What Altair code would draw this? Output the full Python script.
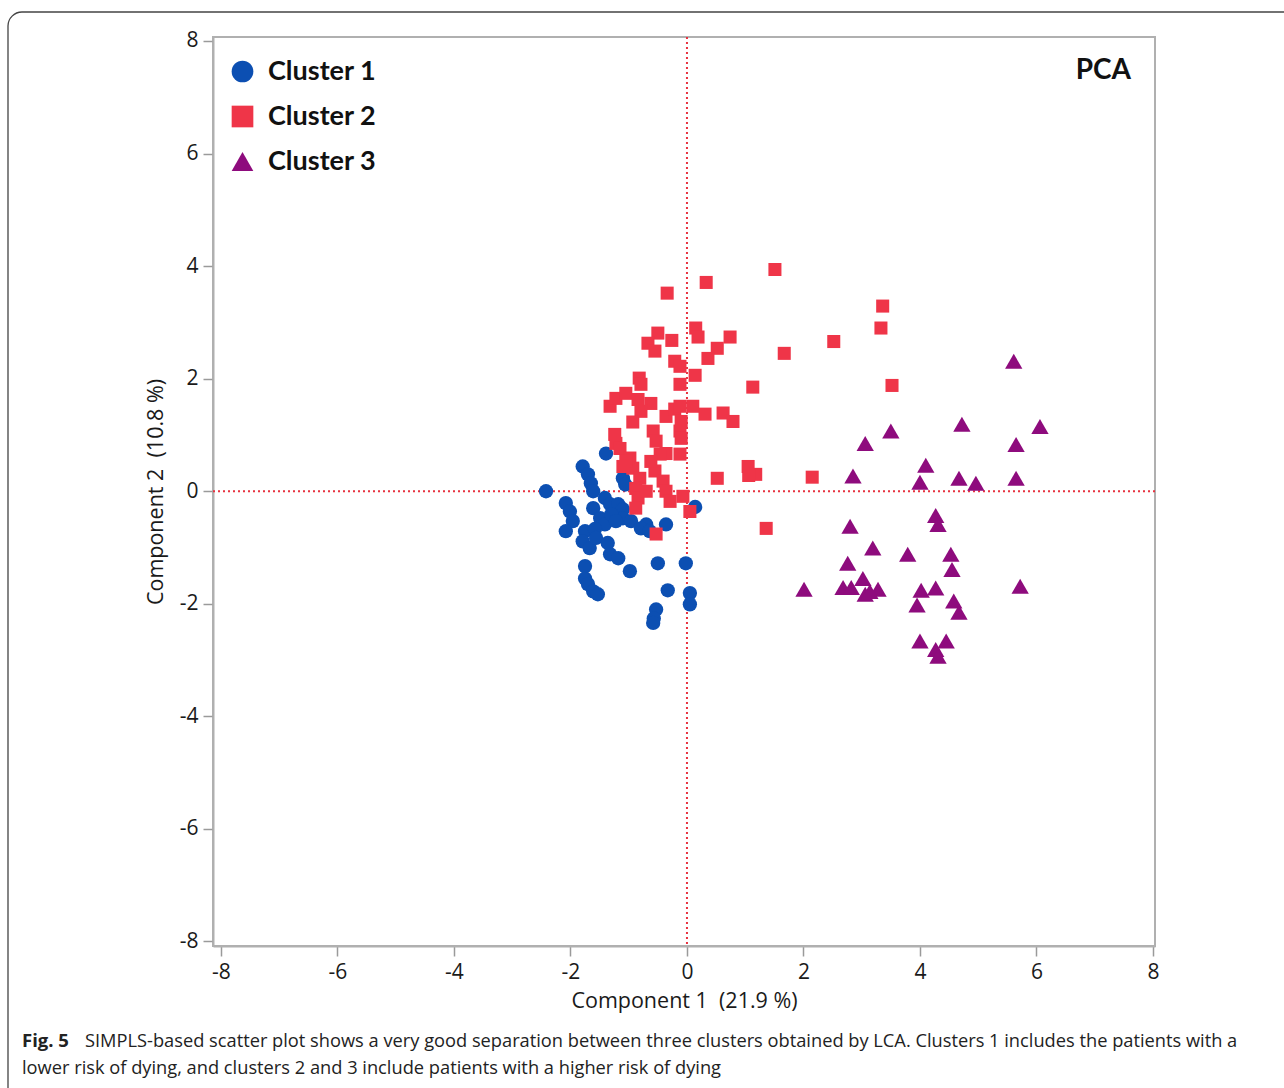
import altair as alt
import pandas as pd

# ---- data ----
c1_x = [-1.39, -1.79, -1.70, -2.42, -1.65, -1.61, -1.10, -1.06, -1.41, -1.32, -2.08, -2.01,
        -1.61, -1.18, -1.10, -1.96, -1.49, -1.41, -1.10, -0.96, -0.70, -0.36, 0.14, -2.08,
        -1.75, -1.58, -1.79, -1.67, -1.56, -1.36, -1.32, -1.18, -0.98, -1.75, -1.75, -1.70,
        -1.61, -1.53, -0.50, -0.02, -0.33, 0.05, 0.05, -0.53, -0.57, -0.58, -1.30, -1.22,
        -0.79, -0.64]
c1_y = [0.67, 0.44, 0.30, 0.00, 0.14, 0.00, 0.23, 0.12, -0.12, -0.23, -0.21, -0.36,
        -0.30, -0.23, -0.32, -0.53, -0.48, -0.59, -0.48, -0.53, -0.59, -0.59, -0.28, -0.71,
        -0.71, -0.67, -0.89, -1.01, -0.83, -0.92, -1.12, -1.19, -1.42, -1.33, -1.55, -1.65,
        -1.78, -1.83, -1.28, -1.28, -1.76, -1.81, -2.01, -2.10, -2.26, -2.34, -0.41, -0.53,
        -0.66, -0.71]

c2_x = [1.51, 0.33, -0.34, 3.36, 3.33, 0.15, 0.19, -0.50, -0.67, -0.26, -0.55, 0.74,
        0.52, 0.36, 2.52, 1.67, -0.21, -0.12, 0.14, -0.82, -0.79, -0.12, 1.13, 3.52,
        -1.32, -1.22, -1.05, -0.84, -0.62, -0.79, -0.93, -0.36, -0.21, -0.12, -0.10, 0.10,
        0.31, 0.62, 0.79, -0.58, -0.53, -0.12, -0.10, -1.24, -1.22, -1.15, -0.98, -0.93,
        -0.81, -0.88, -0.84, -0.88, -0.55, -0.41, -0.36, -0.29, -0.07, 0.05, -0.53, -0.36,
        -0.12, -0.46, -0.70, 0.52, 1.05, 1.18, 1.06, 2.15, 1.36, -1.05, -0.62, -1.10]
c2_y = [3.94, 3.71, 3.52, 3.29, 2.90, 2.90, 2.74, 2.81, 2.63, 2.68, 2.49, 2.74,
        2.54, 2.36, 2.66, 2.45, 2.31, 2.22, 2.06, 2.01, 1.90, 1.90, 1.85, 1.88,
        1.51, 1.65, 1.74, 1.63, 1.56, 1.42, 1.23, 1.33, 1.46, 1.51, 1.24, 1.51,
        1.37, 1.39, 1.24, 1.07, 0.89, 1.07, 0.94, 1.01, 0.85, 0.76, 0.59, 0.41,
        0.23, 0.05, -0.12, -0.30, 0.36, 0.18, 0.00, -0.18, -0.09, -0.36, -0.76, 0.67,
        0.66, 0.66, 0.00, 0.23, 0.44, 0.30, 0.28, 0.25, -0.66, 0.53, 0.53, 0.44]

c3_x = [5.61, 6.06, 4.72, 3.50, 3.06, 5.65, 4.10, 2.85, 4.00, 4.67, 4.96, 5.65,
        4.27, 4.31, 2.80, 3.19, 3.79, 4.53, 4.55, 2.76, 2.01, 2.68, 2.82, 3.02,
        3.06, 3.28, 3.14, 4.02, 4.27, 3.95, 4.58, 4.67, 5.72, 4.00, 4.45, 4.27, 4.31]
c3_y = [2.31, 1.15, 1.19, 1.07, 0.85, 0.83, 0.46, 0.27, 0.16, 0.23, 0.14, 0.23,
        -0.43, -0.59, -0.62, -1.01, -1.12, -1.12, -1.39, -1.28, -1.74, -1.71, -1.71, -1.55,
        -1.83, -1.74, -1.78, -1.76, -1.72, -2.02, -1.95, -2.15, -1.69, -2.66, -2.66, -2.81, -2.93]

clusters = ["Cluster 1", "Cluster 2", "Cluster 3"]
colors = ["#0c4fb2", "#ef3548", "#8e0b7d"]
shapes = ["circle", "square", "triangle-up"]
ticks = [-8, -6, -4, -2, 0, 2, 4, 6, 8]

x_title = "Component 1\u00a0 (21.9 %)"
y_title = "Component 2\u00a0 (10.8 %)"
corner_label = "PCA"
caption_bold = "Fig. 5"
caption_1 = ("SIMPLS-based scatter plot shows a very good separation between three clusters "
             "obtained by LCA. Clusters 1 includes the patients with a")
caption_2 = "lower risk of dying, and clusters 2 and 3 include patients with a higher risk of dying"

rows = []
for name, xs, ys in zip(clusters, [c1_x, c2_x, c3_x], [c1_y, c2_y, c3_y]):
    for a, b in zip(xs, ys):
        rows.append({"x": a, "y": b, "cluster": name})
df = pd.DataFrame(rows)

W, H = 942, 909

xscale = alt.Scale(domain=[-8.137, 8.035], nice=False, zero=False)
yscale = alt.Scale(domain=[-8.08, 8.071], nice=False, zero=False)

axis_common = dict(
    values=ticks, labelExpr="'' + datum.value", grid=False,
    labelFont="Open Sans", labelFontSize=21, labelColor="#1a1a1a",
    tickSize=10, tickColor="#9a9a9a", tickWidth=1.5,
    domainColor="#b0b0b0", domainWidth=2,
    titleFont="Open Sans", titleFontSize=21.5, titleFontWeight="normal", titleColor="#1a1a1a",
)

legend = alt.Legend(title=None, orient="none", legendX=16, legendY=21,
                    labelFont="Lato", labelFontSize=27, labelFontWeight="bold",
                    labelColor="#111", symbolSize=470, rowPadding=17,
                    labelOffset=12, padding=0, symbolStrokeWidth=0)

color_enc = alt.Color("cluster:N", scale=alt.Scale(domain=clusters, range=colors), legend=legend)
shape_enc = alt.Shape("cluster:N", scale=alt.Scale(domain=clusters, range=shapes), legend=legend)

base = alt.Chart(df).encode(
    x=alt.X("x:Q", scale=xscale, axis=alt.Axis(title=x_title, labelPadding=5, titlePadding=8, **axis_common)),
    y=alt.Y("y:Q", scale=yscale, axis=alt.Axis(title=y_title, labelPadding=5, titlePadding=12, **axis_common)),
    color=color_enc,
    shape=shape_enc,
)

sizes = [205, 170, 300]
point_layers = [
    base.transform_filter(alt.datum.cluster == name).mark_point(filled=True, opacity=1, size=s)
    for name, s in zip(clusters, sizes)
]

zero_df = pd.DataFrame({"v": [0]})
vrule = alt.Chart(zero_df).mark_rule(color="#e8323f", strokeDash=[2, 3], strokeWidth=2).encode(
    x=alt.X("v:Q", scale=xscale))
hrule = alt.Chart(zero_df).mark_rule(color="#e8323f", strokeDash=[2, 3], strokeWidth=2).encode(
    y=alt.Y("v:Q", scale=yscale))

pca = alt.Chart(zero_df).mark_text(text=corner_label, font="Lato", fontSize=28, fontWeight="bold",
                                   align="right", baseline="middle", color="#111").encode(
    x=alt.value(918), y=alt.value(34))

border = alt.Chart(zero_df).mark_rect(fillOpacity=0, stroke="#444", strokeWidth=1.3,
                                      cornerRadius=14).encode(
    x=alt.value(-205), x2=alt.value(1100), y=alt.value(-25), y2=alt.value(1080))

cap_b = alt.Chart(zero_df).mark_text(text=caption_bold, font="Open Sans", fontSize=18.5,
                                     fontWeight="bold", align="left", baseline="alphabetic",
                                     color="#222").encode(x=alt.value(-191), y=alt.value(1010))
cap_1 = alt.Chart(zero_df).mark_text(text=caption_1, font="Open Sans", fontSize=18.25,
                                     align="left", baseline="alphabetic",
                                     color="#222").encode(x=alt.value(-128), y=alt.value(1010))
cap_2 = alt.Chart(zero_df).mark_text(text=caption_2, font="Open Sans", fontSize=18.25,
                                     align="left", baseline="alphabetic",
                                     color="#222").encode(x=alt.value(-191), y=alt.value(1037))

chart = alt.layer(border, vrule, hrule, *point_layers, pca, cap_b, cap_1, cap_2).properties(
    width=W, height=H,
    autosize=alt.AutoSizeParams(type="none"),
    padding={"left": 213, "top": 37, "right": 1284 - 213 - W, "bottom": 1088 - 37 - H},
    background="white",
).configure_view(stroke="#b0b0b0", strokeWidth=2)

chart.save("out.html", embed_options={"renderer": "svg", "actions": False})
